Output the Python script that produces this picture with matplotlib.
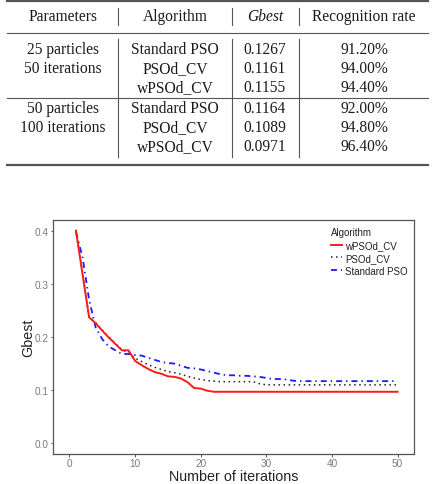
import matplotlib
matplotlib.use("Agg")
import matplotlib.pyplot as plt
import numpy as np

# ---------------- data ----------------
table_header = ["Parameters", "Algorithm", "Gbest", "Recognition rate"]
table_params = ["25 particles", "50 iterations", "", "50 particles", "100 iterations", ""]
table_algos = ["Standard PSO", "PSOd_CV", "wPSOd_CV", "Standard PSO", "PSOd_CV", "wPSOd_CV"]
table_gbest = ["0.1267", "0.1161", "0.1155", "0.1164", "0.1089", "0.0971"]
table_rate = ["91.20%", "94.00%", "94.40%", "92.00%", "94.80%", "96.40%"]

iterations = list(range(1, 51))
wpsod_cv = [0.400, 0.318, 0.237, 0.226, 0.212, 0.199, 0.187, 0.175, 0.175, 0.155,
            0.147, 0.140, 0.134, 0.131, 0.126, 0.125, 0.122, 0.115, 0.104, 0.103,
            0.099, 0.097, 0.097, 0.097, 0.097, 0.097, 0.097, 0.097, 0.097, 0.097,
            0.097, 0.097, 0.097, 0.097, 0.097, 0.097, 0.097, 0.097, 0.097, 0.097,
            0.097, 0.097, 0.097, 0.097, 0.097, 0.097, 0.097, 0.097, 0.097, 0.097]
psod_cv = [0.400, 0.320, 0.237, 0.227, 0.213, 0.200, 0.188, 0.176, 0.171, 0.160,
           0.154, 0.148, 0.143, 0.139, 0.135, 0.133, 0.130, 0.126, 0.123, 0.120,
           0.118, 0.117, 0.116, 0.116, 0.116, 0.116, 0.116, 0.116, 0.112, 0.110,
           0.110, 0.110, 0.110, 0.110, 0.110, 0.110, 0.110, 0.110, 0.110, 0.110,
           0.110, 0.110, 0.110, 0.110, 0.110, 0.110, 0.110, 0.110, 0.110, 0.110]
standard_pso = [0.397, 0.350, 0.270, 0.218, 0.196, 0.182, 0.175, 0.168, 0.168, 0.166,
                0.165, 0.161, 0.157, 0.153, 0.151, 0.150, 0.146, 0.142, 0.141, 0.139,
                0.136, 0.133, 0.130, 0.128, 0.128, 0.127, 0.127, 0.126, 0.125, 0.123,
                0.121, 0.121, 0.120, 0.118, 0.117, 0.117, 0.117, 0.117, 0.117, 0.117,
                0.117, 0.117, 0.117, 0.117, 0.117, 0.117, 0.117, 0.117, 0.117, 0.117]

W, H = 433, 485
fig = plt.figure(figsize=(W / 100, H / 100), dpi=100)
fig.patch.set_facecolor("white")

# ---------------- table (pixel coordinates overlay) ----------------
tx = fig.add_axes([0, 0, 1, 1])
tx.set_xlim(0, W)
tx.set_ylim(H, 0)
tx.axis("off")

serif = ["Liberation Serif", "DejaVu Serif"]
fs = 11.2
tc = "#1a1a1a"
col_x = [63, 175, 265, 364]
head_base = 21
row_base = [54, 73, 92, 113, 132, 151]

for i, h in enumerate(table_header):
    tx.text(col_x[i], head_base, h, ha="center", va="baseline", fontsize=fs,
            family=serif, style="italic" if h == "Gbest" else "normal", color=tc)
for r in range(6):
    tx.text(col_x[0], row_base[r], table_params[r], ha="center", va="baseline", fontsize=fs, family=serif, color=tc)
    tx.text(col_x[1], row_base[r], table_algos[r], ha="center", va="baseline", fontsize=fs, family=serif, color=tc)
    tx.text(col_x[2], row_base[r], table_gbest[r], ha="center", va="baseline", fontsize=fs, family=serif, color=tc)
    tx.text(col_x[3], row_base[r], table_rate[r], ha="center", va="baseline", fontsize=fs, family=serif, color=tc)

lc = "#555555"
tx.plot([7, 428], [1.5, 1.5], color=lc, lw=1.6)
tx.plot([7, 428], [33.5, 33.5], color=lc, lw=0.8)
tx.plot([7, 428], [99, 99], color=lc, lw=0.8)
tx.plot([7, 428], [165.5, 165.5], color=lc, lw=1.6)
for xv in [118, 232, 299]:
    tx.plot([xv, xv], [9, 26], color=lc, lw=0.8)
    tx.plot([xv, xv], [40, 158], color=lc, lw=0.8)

# ---------------- chart ----------------
ax = fig.add_axes([53 / W, 1 - 455 / H, (414 - 53) / W, (455 - 221) / H])
sans = ["Liberation Sans", "DejaVu Sans"]

ax.plot(iterations, wpsod_cv, color="#FF1A1A", lw=1.4, label="wPSOd_CV", zorder=3)
ax.plot(iterations, psod_cv, color="#222222", lw=1.1, linestyle=(0, (1, 2.3)), label="PSOd_CV", zorder=2)
ax.plot(iterations, standard_pso, color="#1a1aff", lw=1.3, linestyle=(0, (3.3, 2.2, 0.8, 2.2)),
        label="Standard PSO", zorder=1)

ax.set_xlim(-2.5, 52.5)
ax.set_ylim(-0.02, 0.42)
ax.set_xticks([0, 10, 20, 30, 40, 50])
ax.set_yticks([0.0, 0.1, 0.2, 0.3, 0.4])
ax.set_yticklabels(["0.0", "0.1", "0.2", "0.3", "0.4"])
for s in ax.spines.values():
    s.set_color("#555555")
    s.set_linewidth(0.9)
ax.tick_params(axis="both", colors="#555555", length=1.8, width=0.7, pad=1.2,
               labelsize=7.2, labelcolor="#7a7a7a")
for lab in ax.get_xticklabels() + ax.get_yticklabels():
    lab.set_family(sans)
ax.set_xlabel("Number of iterations", fontsize=10.3, family=sans, color="#222222")
ax.set_ylabel("Gbest", fontsize=10.3, family=sans, color="#222222")
ax.xaxis.set_label_coords((234 - 53) / 361, (455 - 481) / 234)
ax.xaxis.label.set_va("baseline")
ax.yaxis.set_label_coords((28 - 53) / 361, 0.5)
ax.yaxis.label.set_va("center")

leg = ax.legend(loc="upper left", bbox_to_anchor=(331 / W, 1 - 228 / H),
                bbox_transform=fig.transFigure, frameon=False, title="Algorithm",
                prop={"family": sans, "size": 7.0}, title_fontsize=7.0,
                handlelength=1.1, handletextpad=0.35, labelspacing=0.3,
                borderpad=0, borderaxespad=0, alignment="left")
leg.get_title().set_family(sans)
leg.get_title().set_color("#222222")
for t in leg.get_texts():
    t.set_color("#222222")

fig.savefig("out.png", dpi=100, facecolor="white")
